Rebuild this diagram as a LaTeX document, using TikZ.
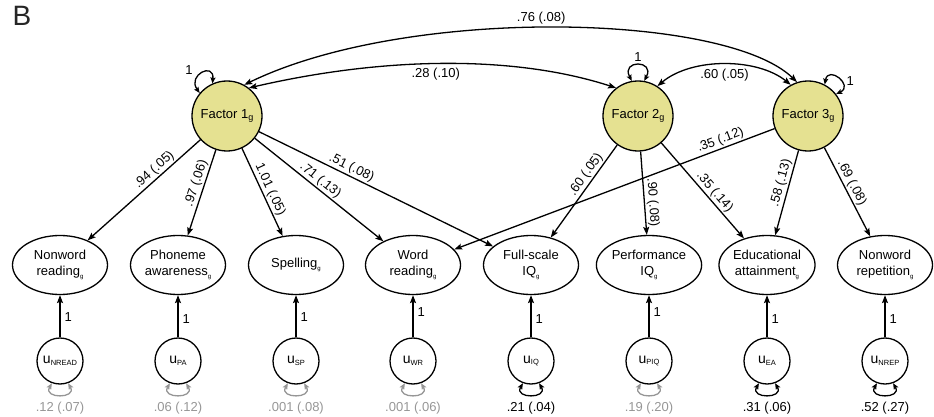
\documentclass[tikz,border=0pt]{standalone}
\usepackage{fontspec}
\setmainfont{Liberation Sans}
\usetikzlibrary{arrows.meta,shapes.geometric}
\definecolor{factorfill}{RGB}{229,225,145}
\definecolor{varg}{RGB}{150,150,150}
\newcommand{\gsub}{\raisebox{-3pt}{\fontsize{6}{6}\selectfont g}}
\newcommand{\fgsub}{\raisebox{-2.5pt}{\fontsize{9}{9}\selectfont g}}
\newcommand{\usub}[1]{u\raisebox{-1.5pt}{\fontsize{7.5}{7.5}\selectfont #1}}
\begin{document}
\begin{tikzpicture}[x=1pt,y=1pt,
  font=\fontsize{13}{15.5}\selectfont,
  factor/.style={circle, draw, line width=1.3pt, fill=factorfill, minimum size=70pt, inner sep=0pt},
  obs/.style={ellipse, draw, line width=1.3pt, minimum width=95pt, minimum height=59pt, inner sep=0pt, align=center},
  resid/.style={circle, draw, line width=1.3pt, minimum size=46pt, inner sep=0pt, font=\fontsize{14}{14}\selectfont},
  loading/.style={line width=1.3pt, -{Stealth[length=8pt,width=6pt,inset=1.5pt]}},
  cov/.style={line width=1.3pt, {Stealth[length=8pt,width=6pt,inset=1.5pt]}-{Stealth[length=8pt,width=6pt,inset=1.5pt]}},
  selfloop/.style={line width=1.3pt, {Stealth[length=6pt,width=5pt,inset=1pt]}-{Stealth[length=6pt,width=5pt,inset=1pt]}},
  lab/.style={sloped, above, inner sep=1.5pt},
  one/.style={right=3pt, inner sep=1pt}
]
\useasboundingbox (0,-417) rectangle (934,0);

\node[font=\fontsize{28}{28}\selectfont, text=black!85, inner sep=0pt] (B) at (22,-15.5) {B};

% factors
\node[factor] (f1) at (227,-116) {Factor 1\fgsub};
\node[factor] (f2) at (638,-116) {Factor 2\fgsub};
\node[factor] (f3) at (808,-116) {Factor 3\fgsub};

% observed
\node[obs] (nr)   at (60,-265)  {Nonword\\reading\gsub};
\node[obs] (pa)   at (178,-265) {Phoneme\\awareness\gsub};
\node[obs] (sp)   at (296,-265) {Spelling\gsub};
\node[obs] (wr)   at (413,-265) {Word\\reading\gsub};
\node[obs] (iq)   at (531,-265) {Full-scale\\IQ\gsub};
\node[obs] (piq)  at (649,-265) {Performance\\IQ\gsub};
\node[obs] (ea)   at (767,-265) {Educational\\attainment\gsub};
\node[obs] (nrep) at (885,-265) {Nonword\\repetition\gsub};

% residuals
\node[resid] (unr)   at (60,-361)  {\usub{NREAD}};
\node[resid] (upa)   at (178,-361) {\usub{PA}};
\node[resid] (usp)   at (296,-361) {\usub{SP}};
\node[resid] (uwr)   at (413,-361) {\usub{WR}};
\node[resid] (uiq)   at (531,-361) {\usub{IQ}};
\node[resid] (upiq)  at (649,-361) {\usub{PIQ}};
\node[resid] (uea)   at (767,-361) {\usub{EA}};
\node[resid] (unrep) at (885,-361) {\usub{NREP}};

% residual paths
\draw[loading] (unr) -- (nr) node[one, pos=0.48] {1};
\draw[loading] (upa) -- (pa) node[one, pos=0.44] {1};
\draw[loading] (usp) -- (sp) node[one, pos=0.48] {1};
\draw[loading] (uwr) -- (wr) node[one, pos=0.6] {1};
\draw[loading] (uiq) -- (iq) node[one, pos=0.44] {1};
\draw[loading] (upiq) -- (piq) node[one, pos=0.6] {1};
\draw[loading] (uea) -- (ea) node[one, pos=0.44] {1};
\draw[loading] (unrep) -- (nrep) node[one, pos=0.44] {1};

% residual variances
\foreach \u/\x/\v/\c in {unr/60/.12 (.07)/varg, upa/178/.06 (.12)/varg, usp/296/.001 (.08)/varg, uwr/413/.001 (.06)/varg, uiq/531/.21 (.04)/black, upiq/649/.19 (.20)/varg, uea/767/.31 (.06)/black, unrep/885/.52 (.27)/black}{
  \draw[selfloop, draw=\c] (\u.250) .. controls +(-120:18) and +(-60:18) .. (\u.290);
  \node[text=\c] (v\u) at (\x,-408) {\v};
}

% loadings
\draw[loading] (f1) -- (nr)  node[lab, pos=0.36] {.94 (.05)};
\draw[loading] (f1) -- (pa)  node[lab, pos=0.42] {.97 (.06)};
\draw[loading] (f1) -- (sp)  node[lab, pos=0.51] {1.01 (.05)};
\draw[loading] (f1) -- (wr)  node[lab, pos=0.47] {.71 (.13)};
\draw[loading] (f1) -- (iq)  node[lab, pos=0.38] {.51 (.08)};
\draw[loading] (f2) -- (iq)  node[lab, pos=0.37] {.60 (.05)};
\draw[loading] (f2) -- (piq) node[lab, pos=0.62] {.90 (.08)};
\draw[loading] (f2) -- (ea)  node[lab, pos=0.57] {.35 (.14)};
\draw[loading] (f3) -- (wr)  node[lab, pos=0.16] {.35 (.12)};
\draw[loading] (f3) -- (ea)  node[lab, pos=0.41] {.58 (.13)};
\draw[loading] (f3) -- (nrep) node[lab, pos=0.44] {.69 (.08)};

% covariances
\draw[cov] (f1.61) .. controls +(26:180) and +(136:100) .. (f3.108)
  node[pos=0.48, above=2pt, inner sep=1pt] {.76 (.08)};
\draw[cov] (f1.52) .. controls +(13:142) and +(162:105) .. (f2.128)
  node[pos=0.47, below=3pt, inner sep=1pt] {.28 (.10)};
\draw[cov] (f2.57) .. controls +(40:45) and +(141:43) .. (f3.119)
  node[pos=0.5, below=3pt, inner sep=1pt] {.60 (.05)};

% factor variances
\draw[selfloop] (f1.140) .. controls +(125:22) and +(85:22) .. (f1.114)
  node[pos=0.3, above left=3pt, inner sep=1pt] {1};
\draw[selfloop] (f2.100) .. controls +(118:24) and +(62:24) .. (f2.80)
  node[pos=0.5, above=2pt, inner sep=1pt] {1};
\draw[selfloop] (f3.62) .. controls +(80:20) and +(25:20) .. (f3.38)
  node[pos=0.6, right=4pt, inner sep=1pt] {1};
\end{tikzpicture}
\end{document}
